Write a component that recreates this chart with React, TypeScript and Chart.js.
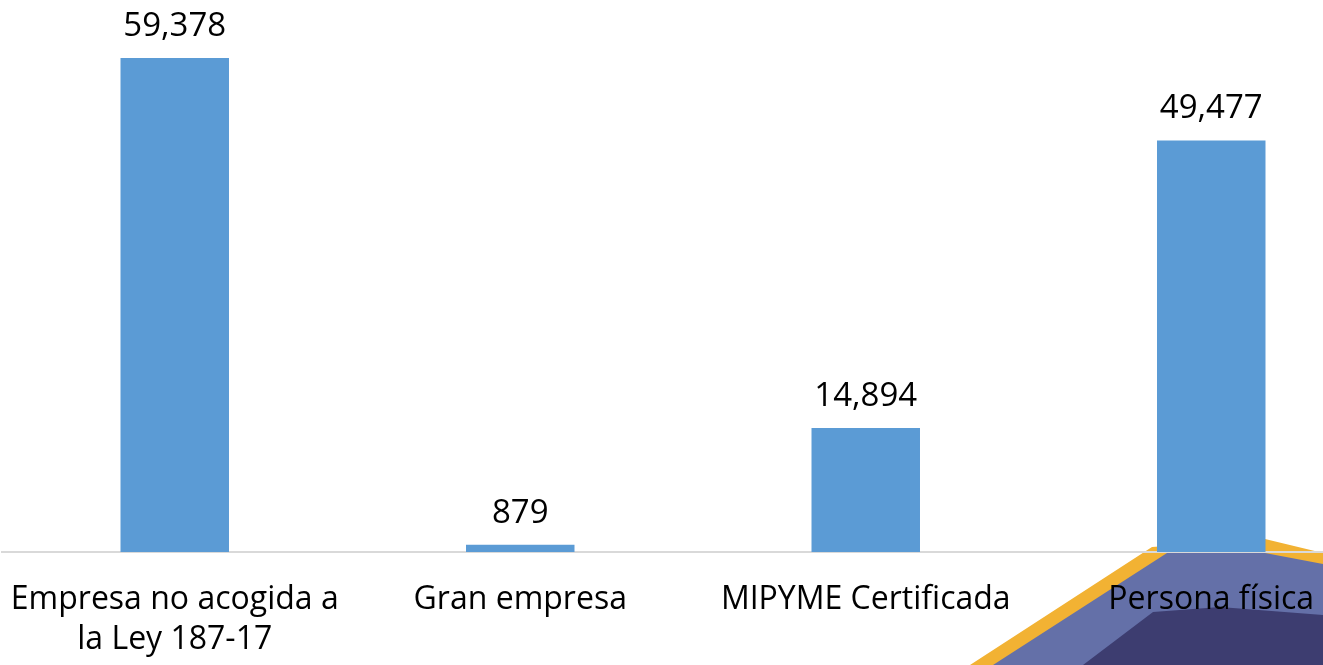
import React, { useEffect, useRef } from "react";
import { Chart, registerables } from "chart.js";

Chart.register(...registerables);

const categories: (string | string[])[] = [
  ["Empresa no acogida a", "la Ley 187-17"],
  "Gran empresa",
  "MIPYME Certificada",
  "Persona física",
];
const values: number[] = [59378, 879, 14894, 49477];

const FONT = "'Open Sans', 'Noto Sans', sans-serif";

const decorationPlugin = {
  id: "decoration",
  beforeDraw(chart: any) {
    const ctx = chart.ctx as CanvasRenderingContext2D;
    const poly = (pts: number[][], color: string) => {
      ctx.beginPath();
      ctx.moveTo(pts[0][0], pts[0][1]);
      for (let i = 1; i < pts.length; i++) ctx.lineTo(pts[i][0], pts[i][1]);
      ctx.closePath();
      ctx.fillStyle = color;
      ctx.fill();
    };
    ctx.save();
    poly([[970, 665], [1152, 547], [1265, 539], [1323, 553], [1400, 553], [1400, 665]], "#f2b233");
    poly([[993, 665], [1167, 553], [1265, 553], [1323, 564], [1400, 564], [1400, 665]], "#6470a8");
    poly([[1083, 665], [1153, 612], [1220, 607], [1323, 615], [1400, 615], [1400, 665]], "#3d3d70");
    ctx.restore();
  },
};

const valueLabelPlugin = {
  id: "valueLabels",
  afterDatasetsDraw(chart: any) {
    const ctx = chart.ctx as CanvasRenderingContext2D;
    const meta = chart.getDatasetMeta(0);
    ctx.save();
    ctx.font = `33px ${FONT}`;
    ctx.fillStyle = "#000";
    ctx.textAlign = "center";
    ctx.textBaseline = "alphabetic";
    meta.data.forEach((bar: any, i: number) => {
      ctx.fillText(values[i].toLocaleString("en-US"), bar.x, bar.y - 22);
    });
    ctx.restore();
  },
};

export default function App() {
  const ref = useRef<HTMLCanvasElement>(null);
  useEffect(() => {
    if (!ref.current) return;
    const chart = new Chart(ref.current, {
      type: "bar",
      data: {
        labels: categories,
        datasets: [
          {
            data: values,
            backgroundColor: "#5b9bd5",
            borderWidth: 0,
            categoryPercentage: 1,
            barPercentage: 0.314,
          },
        ],
      },
      options: {
        responsive: false,
        animation: false,
        layout: { padding: { left: 2, right: 0, top: 0, bottom: 0 } },
        plugins: { legend: { display: false }, tooltip: { enabled: false } },
        scales: {
          x: {
            grid: { display: false, drawTicks: false },
            border: { display: true, color: "#d9d9d9", width: 2 },
            ticks: {
              color: "#000",
              font: { family: FONT, size: 32, lineHeight: 1.25 },
              padding: 28,
              maxRotation: 0,
              autoSkip: false,
            },
            afterFit: (scale: any) => {
              scale.height = 113;
              scale.paddingLeft = 0;
              scale.paddingRight = 0;
            },
          },
          y: {
            display: false,
            min: 0,
            max: 66350,
          },
        },
      },
      plugins: [decorationPlugin, valueLabelPlugin],
    });
    return () => chart.destroy();
  }, []);
  return (
    <div style={{ position: "fixed", left: 0, top: 0, width: 1323, height: 665, overflow: "hidden", background: "#fff" }}>
      <canvas ref={ref} width={1384} height={665} style={{ width: 1384, height: 665, display: "block" }} />
    </div>
  );
}
